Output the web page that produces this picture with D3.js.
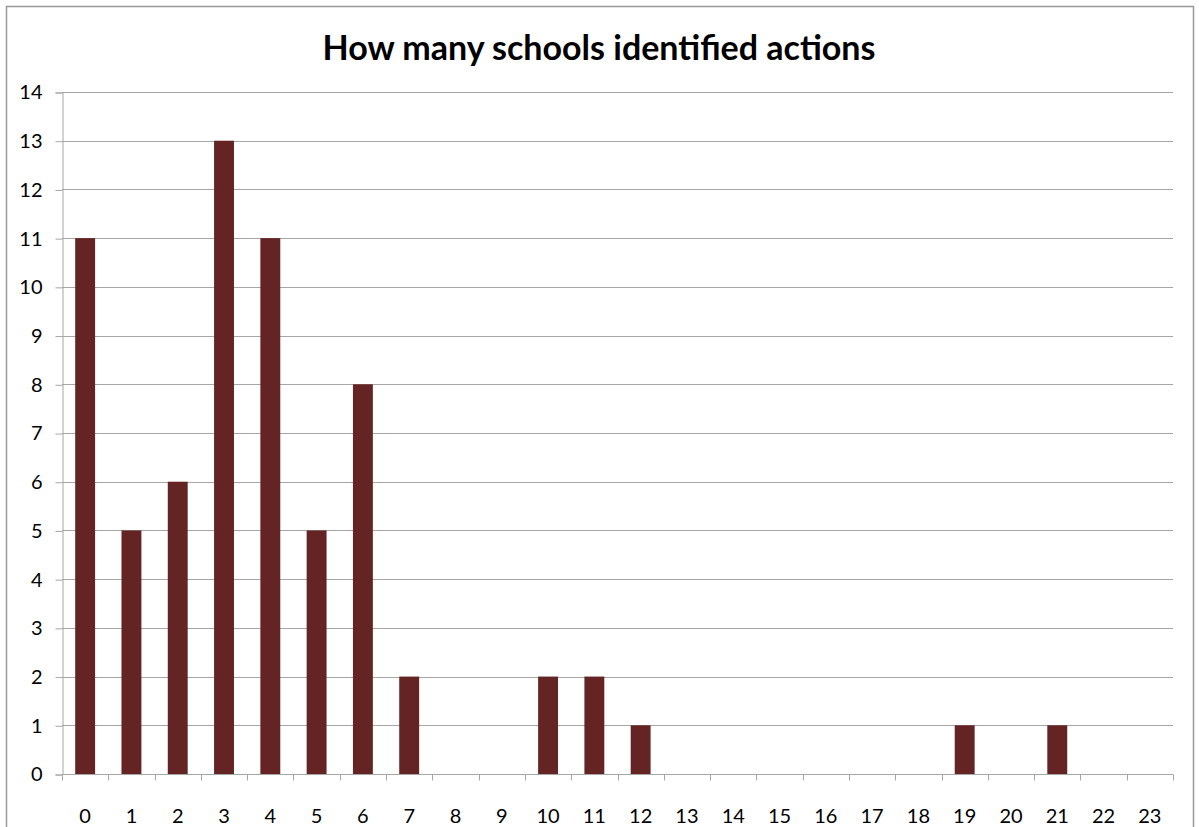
<!DOCTYPE html>
<html><head><meta charset="utf-8">
<script src="https://cdn.jsdelivr.net/npm/d3@7"></script>
<style>body{margin:0;background:#fff;} svg{display:block;} text{font-family:Lato,"Open Sans",sans-serif;}</style>
</head><body>
<svg id="c" width="1199" height="827"></svg>
<script>
const categories = ["0","1","2","3","4","5","6","7","8","9","10","11","12","13","14","15","16","17","18","19","20","21","22","23"];
const values = [11,5,6,13,11,5,8,2,0,0,2,2,1,0,0,0,0,0,0,1,0,1,0,0];
const yTicks = [0,1,2,3,4,5,6,7,8,9,10,11,12,13,14];
const title = "How many schools identified actions";

const svg = d3.select("#c");
svg.append("rect").attr("x",6.5).attr("y",6.5).attr("width",1187).attr("height",840)
  .attr("fill","#fff").attr("stroke","#999").attr("stroke-width",1.5);

const x = d3.scaleBand().domain(categories).range([62,1173]).paddingInner(0.57).paddingOuter(0.285);
const xb = d3.scaleBand().domain(categories).range([62,1173]);
const y = d3.scaleLinear().domain([0,14]).range([774,92]);

// gridlines
svg.append("g").selectAll("line").data(yTicks.filter(d=>d>0)).join("line")
  .attr("x1",62).attr("x2",1173).attr("y1",d=>Math.round(y(d))+0.5).attr("y2",d=>Math.round(y(d))+0.5)
  .attr("stroke","#a6a6a6").attr("stroke-width",1);

// y axis
const ya = svg.append("g").attr("transform","translate(62.5,0.5)")
  .call(d3.axisLeft(y).tickValues(yTicks).tickSize(7).tickPadding(13).tickFormat(d3.format("d")));
ya.select(".domain").attr("stroke","#a6a6a6");
ya.selectAll(".tick line").attr("stroke","#a6a6a6");
ya.selectAll("text").attr("font-size",20).attr("fill","#000").attr("font-family","Lato,'Open Sans',sans-serif");

// bars
svg.append("g").selectAll("rect").data(values).join("rect")
  .attr("x",(d,i)=>x(categories[i])).attr("width",x.bandwidth())
  .attr("y",d=>y(d)).attr("height",d=>y(0)-y(d)).attr("fill","#632423");

// x axis
const xa = svg.append("g").attr("transform","translate(0,774.5)");
xa.append("line").attr("x1",62).attr("x2",1173).attr("stroke","#a6a6a6");
const bounds = categories.map(c=>xb(c)).concat([1173]);
xa.selectAll("line.t").data(bounds).join("line").attr("class","t")
  .attr("x1",d=>Math.round(d)+0.5).attr("x2",d=>Math.round(d)+0.5).attr("y1",0).attr("y2",6)
  .attr("stroke","#a6a6a6");
xa.selectAll("text").data(categories).join("text")
  .attr("x",d=>xb(d)+xb.bandwidth()/2).attr("y",48).attr("text-anchor","middle")
  .attr("font-size",20).attr("fill","#000").text(d=>d);

svg.append("text").attr("x",599).attr("y",60).attr("text-anchor","middle")
  .attr("font-size",34).attr("font-weight","bold").attr("fill","#000").text(title);
</script>
</body></html>
